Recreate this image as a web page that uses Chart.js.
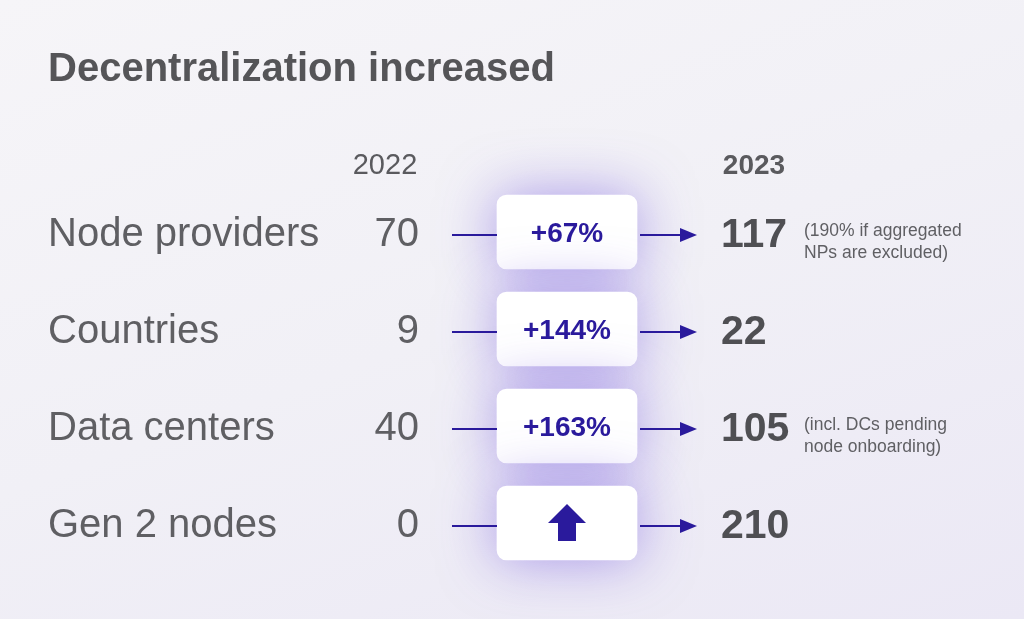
<!DOCTYPE html>
<html><head><meta charset="utf-8">
<script src="https://cdn.jsdelivr.net/npm/chart.js@4"></script>
<style>
html,body{margin:0;padding:0;width:1024px;height:619px;overflow:hidden;
background:linear-gradient(160deg,#f6f5f8 0%,#f1f0f6 50%,#ebe8f5 100%);}
#c{display:block}
</style></head><body>
<canvas id="c" width="1024" height="619"></canvas>
<script>
const title = "Decentralization increased";
const yearLabels = ["2022", "2023"];
const categories = ["Node providers", "Countries", "Data centers", "Gen 2 nodes"];
const values2022 = [70, 9, 40, 0];
const values2023 = [117, 22, 105, 210];
const changes = ["+67%", "+144%", "+163%", "▲"];
const notes = [["(190% if aggregated", "NPs are excluded)"], [], ["(incl. DCs pending", "node onboarding)"], []];

const PURPLE = "#2a1a9c";
const FONT = '"Liberation Sans", Arial, sans-serif';
const boxX = [497, 637];

const overlay = {
  id: 'overlay',
  beforeDatasetsDraw(chart) {
    const ctx = chart.ctx;
    ctx.save();
    ctx.shadowColor = 'rgba(110,80,220,0.55)';
    ctx.shadowBlur = 55;
  },
  afterDatasetsDraw(chart) {
    const ctx = chart.ctx;
    ctx.restore();
    const x = chart.scales.x, y = chart.scales.y;
    ctx.save();
    ctx.textBaseline = 'middle';
    ctx.fillStyle = '#555558';
    ctx.font = 'bold 40px ' + FONT;
    ctx.textAlign = 'left';
    ctx.fillText(title, 48, 70);
    ctx.font = '29px ' + FONT;
    ctx.fillStyle = '#5a5a5e';
    ctx.textAlign = 'center';
    ctx.fillText(yearLabels[0], x.getPixelForValue(385), 166);
    ctx.font = 'bold 28px ' + FONT;
    ctx.fillText(yearLabels[1], x.getPixelForValue(754), 166);
    categories.forEach((cat, i) => {
      const py = y.getPixelForValue(i);
      const ty = py + 3;
      ctx.textAlign = 'left';
      ctx.fillStyle = '#5f5f63';
      ctx.font = '40px ' + FONT;
      ctx.fillText(cat, 48, ty);
      ctx.textAlign = 'right';
      ctx.fillText(String(values2022[i]), x.getPixelForValue(419), ty);
      ctx.strokeStyle = PURPLE; ctx.lineWidth = 2;
      ctx.beginPath();
      ctx.moveTo(x.getPixelForValue(452), ty); ctx.lineTo(x.getPixelForValue(boxX[0]), ty);
      ctx.moveTo(x.getPixelForValue(640), ty); ctx.lineTo(x.getPixelForValue(682), ty);
      ctx.stroke();
      ctx.fillStyle = PURPLE;
      ctx.beginPath();
      ctx.moveTo(x.getPixelForValue(680), ty - 7);
      ctx.lineTo(x.getPixelForValue(697), ty);
      ctx.lineTo(x.getPixelForValue(680), ty + 7);
      ctx.closePath(); ctx.fill();
      const cx = x.getPixelForValue((boxX[0] + boxX[1]) / 2);
      if (changes[i] === "▲") {
        ctx.beginPath();
        ctx.moveTo(cx, py - 19); ctx.lineTo(cx + 19, py); ctx.lineTo(cx + 9, py);
        ctx.lineTo(cx + 9, py + 18); ctx.lineTo(cx - 9, py + 18); ctx.lineTo(cx - 9, py);
        ctx.lineTo(cx - 19, py); ctx.closePath(); ctx.fill();
      } else {
        ctx.textAlign = 'center';
        ctx.font = 'bold 28px ' + FONT;
        ctx.fillText(changes[i], cx, py + 2);
      }
      ctx.textAlign = 'left';
      ctx.fillStyle = '#4f4f53';
      ctx.font = 'bold 41px ' + FONT;
      ctx.fillText(String(values2023[i]), x.getPixelForValue(721), ty + 1);
      ctx.fillStyle = '#5f5f63';
      ctx.font = '17.5px ' + FONT;
      notes[i].forEach((n, k) => ctx.fillText(n, x.getPixelForValue(804), ty - 4 + k * 22));
    });
    ctx.restore();
  }
};

new Chart(document.getElementById('c'), {
  type: 'bar',
  data: {
    labels: categories,
    datasets: [{
      data: categories.map(() => boxX),
      backgroundColor: '#ffffff',
      borderRadius: 10,
      borderSkipped: false,
      barThickness: 74,
      clip: false
    }]
  },
  options: {
    indexAxis: 'y',
    responsive: false,
    animation: false,
    layout: { padding: { top: 183.5, bottom: 47.5, left: 0, right: 0 } },
    plugins: { legend: { display: false }, tooltip: { enabled: false } },
    scales: {
      x: { type: 'linear', min: 0, max: 1024, display: false },
      y: { type: 'category', display: false, offset: true }
    }
  },
  plugins: [overlay]
});
</script>
</body></html>
